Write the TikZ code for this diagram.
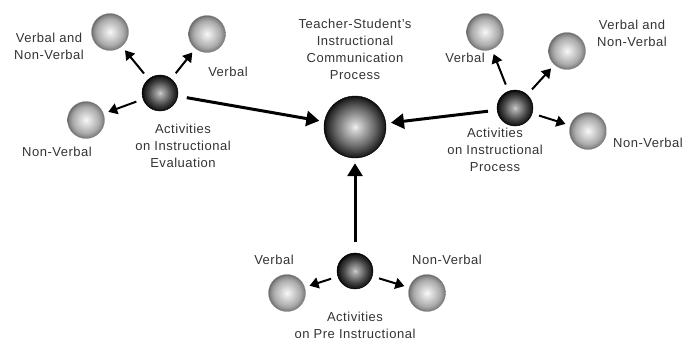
\documentclass[tikz,border=0pt]{standalone}
\usepackage{fontspec}
\setmainfont[LetterSpace=4]{Liberation Sans}
\usetikzlibrary{arrows.meta}
\pgfdeclareradialshading{lightsph}{\pgfpoint{0bp}{0bp}}{color(0bp)=(black!2); color(3bp)=(black!8); color(18bp)=(black!33); color(23bp)=(black!48); color(25bp)=(black!60); color(50bp)=(black!60)}
\pgfdeclareradialshading{darksph}{\pgfpoint{0bp}{0bp}}{color(0bp)=(black!18); color(3bp)=(black!32); color(16bp)=(black!72); color(23bp)=(black!90); color(25bp)=(black); color(50bp)=(black)}
\pgfdeclareradialshading{bigsph}{\pgfpoint{0bp}{0bp}}{color(0bp)=(black!5); color(3bp)=(black!18); color(16bp)=(black!60); color(23bp)=(black!85); color(25bp)=(black!95); color(50bp)=(black!95)}
\begin{document}
\begin{tikzpicture}[x=1pt,y=-1pt,
  lball/.style={circle,minimum size=37pt,inner sep=0pt,shading=lightsph,draw=black!45,line width=0.3pt},
  dball/.style={circle,minimum size=36pt,inner sep=0pt,shading=darksph,draw=black,line width=0.4pt},
  bball/.style={circle,minimum size=62pt,inner sep=0pt,shading=bigsph,draw=black,line width=0.4pt},
  lbl/.style={align=center,inner sep=0pt,text=black!80,font=\fontsize{13}{17}\selectfont},
  bigarrow/.style={line width=3pt,-{Triangle[length=13pt,width=15pt]}},
  smallarrow/.style={line width=2pt,-{Triangle[length=9pt,width=11pt]},shorten <=7pt,shorten >=5pt}]
\useasboundingbox (0,0) rectangle (685,341);
% centre
\node[bball] (c) at (355,127) {};
\node[lbl] (title) at (355,49) {Teacher-Student's\\Instructional\\Communication\\Process};
% left group
\node[dball] (e) at (160,93) {};
\node[lball] (e1) at (110,32) {};
\node[lball] (e2) at (207,34) {};
\node[lball] (e3) at (86,120) {};
\node[lbl] (e1t) at (49,46) {Verbal and\\Non-Verbal};
\node[lbl] (e2t) at (228,72) {Verbal};
\node[lbl] (e3t) at (57,152) {Non-Verbal};
\node[lbl] (et) at (183,146) {Activities\\on Instructional\\Evaluation};
% right group
\node[dball] (p) at (515,108) {};
\node[lball] (p1) at (485,32) {};
\node[lball] (p2) at (567,51) {};
\node[lball] (p3) at (588,131) {};
\node[lbl] (p1t) at (465,58) {Verbal};
\node[lbl] (p2t) at (632,33) {Verbal and\\Non-Verbal};
\node[lbl] (p3t) at (648,143) {Non-Verbal};
\node[lbl] (pt) at (495,150) {Activities\\on Instructional\\Process};
% bottom group
\node[dball] (b) at (355,271) {};
\node[lball] (b1) at (287,293) {};
\node[lball] (b2) at (427,293) {};
\node[lbl] (b1t) at (274,260) {Verbal};
\node[lbl] (b2t) at (447,260) {Non-Verbal};
\node[lbl] (bt) at (355,325) {Activities\\on Pre Instructional};
% arrows
\draw[bigarrow,shorten <=9pt,shorten >=5pt] (e) -- (c);
\draw[bigarrow,shorten <=9pt,shorten >=5pt] (p) -- (c);
\draw[bigarrow,shorten <=11pt,shorten >=5pt] (b) -- (c);
\draw[smallarrow] (e) -- (e1);
\draw[smallarrow] (e) -- (e2);
\draw[smallarrow] (e) -- (e3);
\draw[smallarrow] (p) -- (p1);
\draw[smallarrow] (p) -- (p2);
\draw[smallarrow] (p) -- (p3);
\draw[smallarrow] (b) -- (b1);
\draw[smallarrow] (b) -- (b2);
\end{tikzpicture}
\end{document}
